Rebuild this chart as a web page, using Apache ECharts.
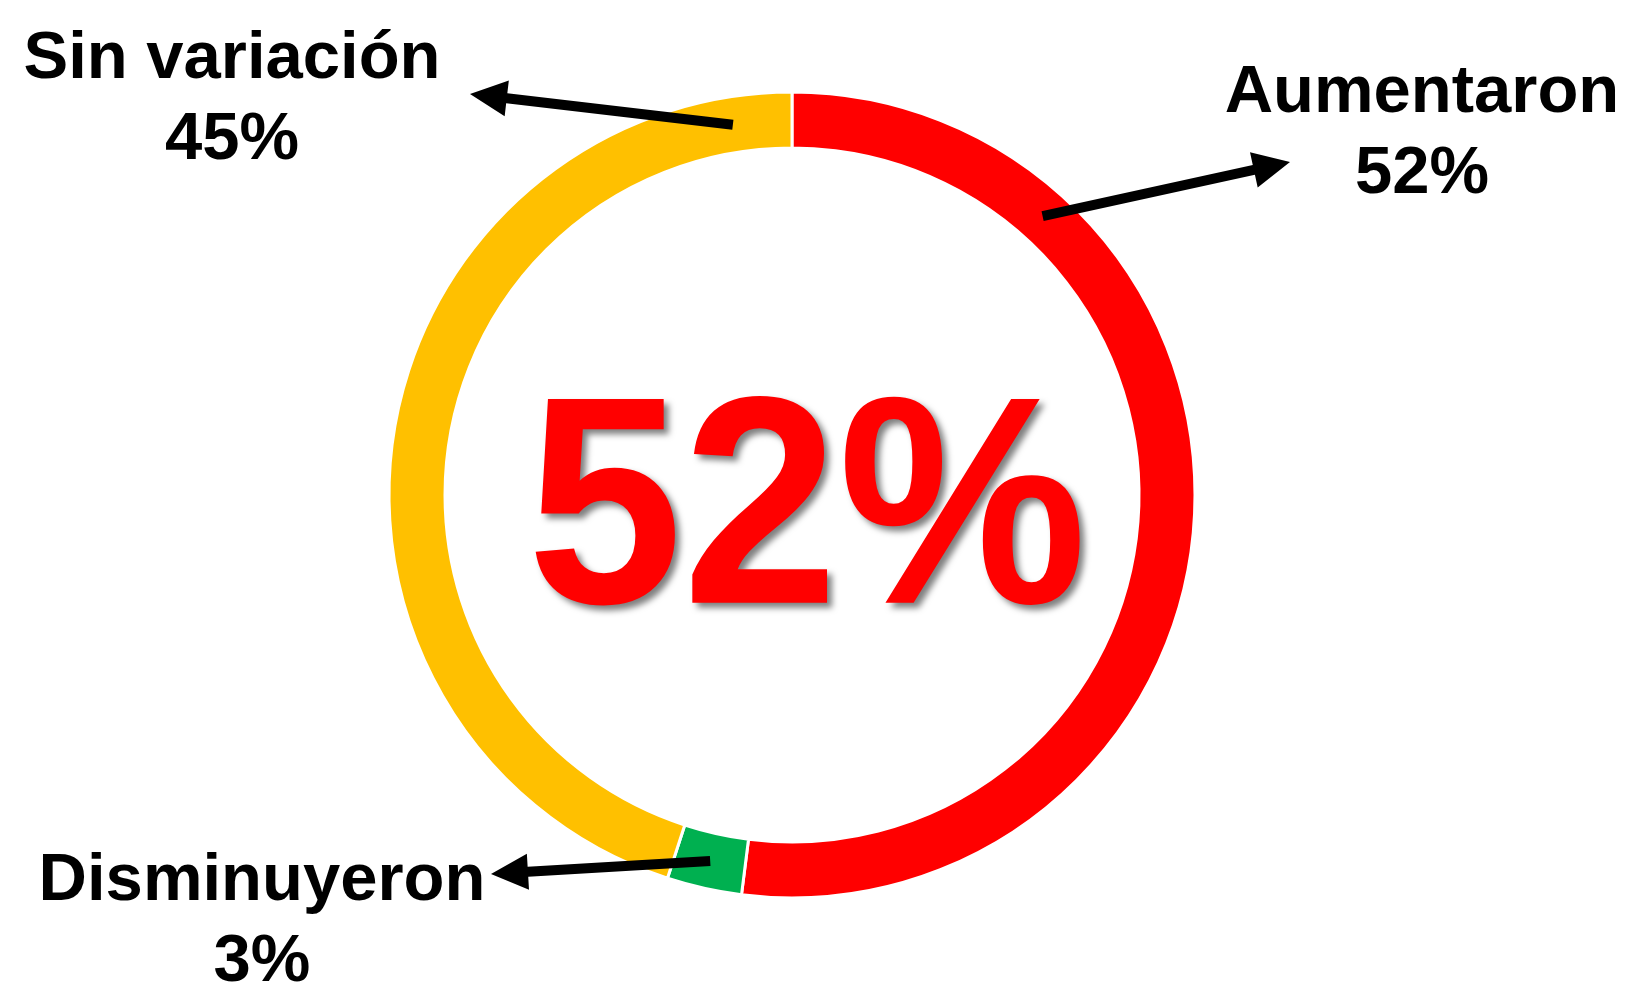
<!DOCTYPE html>
<html>
<head>
<meta charset="utf-8">
<script src="https://cdn.jsdelivr.net/npm/echarts@6/dist/echarts.min.js"></script>
<style>
html,body{margin:0;padding:0;background:#fff;}
#chart{width:1630px;height:983px;}
</style>
</head>
<body>
<div id="chart"></div>
<script>
// ---- data ----
const categories = ['Aumentaron', 'Disminuyeron', 'Sin variación'];
const values = [52, 3, 45];
const centerLabel = '52%';

// ---- style / layout ----
const colors = ['#FF0000', '#00B050', '#FFC000'];
const CX = 792, CY = 495, R0 = 347, R1 = 403;
const FONT = '"Liberation Sans", Arial, sans-serif';
// label anchor (block centre) per category
const labelPos = [[1422, 134], [262, 922], [232, 100]];
// arrow: fraction along segment for tail, tip position
const arrowFrac = [0.224, 0.5, 0.944];
const arrowTip = [[1290, 162], [491, 874], [470, 94]];

const chart = echarts.init(document.getElementById('chart'), null, {renderer: 'canvas'});

const total = values.reduce((a, b) => a + b, 0);
function arrowShape(tx, ty, hx, hy) {
  const lw = 10, hl = 37, hw = 18;
  const dx = hx - tx, dy = hy - ty, L = Math.hypot(dx, dy);
  const ux = dx / L, uy = dy / L, nx = -uy, ny = ux;
  const bx = hx - ux * hl, by = hy - uy * hl;
  return [
    [tx + nx * lw / 2, ty + ny * lw / 2],
    [bx + nx * lw / 2, by + ny * lw / 2],
    [bx + nx * hw, by + ny * hw],
    [hx, hy],
    [bx - nx * hw, by - ny * hw],
    [bx - nx * lw / 2, by - ny * lw / 2],
    [tx - nx * lw / 2, ty - ny * lw / 2]
  ];
}
const graphics = [];
let cum = 0;
values.forEach((v, i) => {
  const a0 = cum / total * 360, a1 = (cum + v) / total * 360;
  cum += v;
  const ang = (a0 + (a1 - a0) * arrowFrac[i]) * Math.PI / 180;
  const rm = (R0 + R1) / 2;
  const tx = CX + rm * Math.sin(ang), ty = CY - rm * Math.cos(ang);
  graphics.push({
    type: 'polygon', z: 100,
    shape: {points: arrowShape(tx, ty, arrowTip[i][0], arrowTip[i][1])},
    style: {fill: '#000'}
  });
});
graphics.push({
  type: 'text', z: 50,
  x: 807, y: 521, scaleX: 0.945,
  style: {
    text: centerLabel, fill: '#FF0000', font: 'bold 296px ' + FONT,
    align: 'center', verticalAlign: 'middle',
    textShadowColor: 'rgba(0,0,0,0.5)', textShadowBlur: 6,
    textShadowOffsetX: 5, textShadowOffsetY: 5
  }
});

chart.setOption({
  animation: false,
  backgroundColor: '#fff',
  series: [{
    type: 'pie',
    center: [CX, CY],
    radius: [R0, R1],
    startAngle: 90,
    clockwise: true,
    avoidLabelOverlap: false,
    itemStyle: {borderColor: '#fff', borderWidth: 3},
    label: {
      show: true,
      formatter: p => '{a|' + p.name + '}\n{a|' + p.value + '%}',
      rich: {a: {fontFamily: FONT, fontWeight: 'bold', fontSize: 67, color: '#000', lineHeight: 81, align: 'center'}}
    },
    labelLine: {show: false},
    labelLayout: p => ({x: labelPos[p.dataIndex][0], y: labelPos[p.dataIndex][1], align: 'center', verticalAlign: 'middle'}),
    data: categories.map((c, i) => ({name: c, value: values[i], itemStyle: {color: colors[i]}}))
  }],
  graphic: graphics
});
</script>
</body>
</html>
